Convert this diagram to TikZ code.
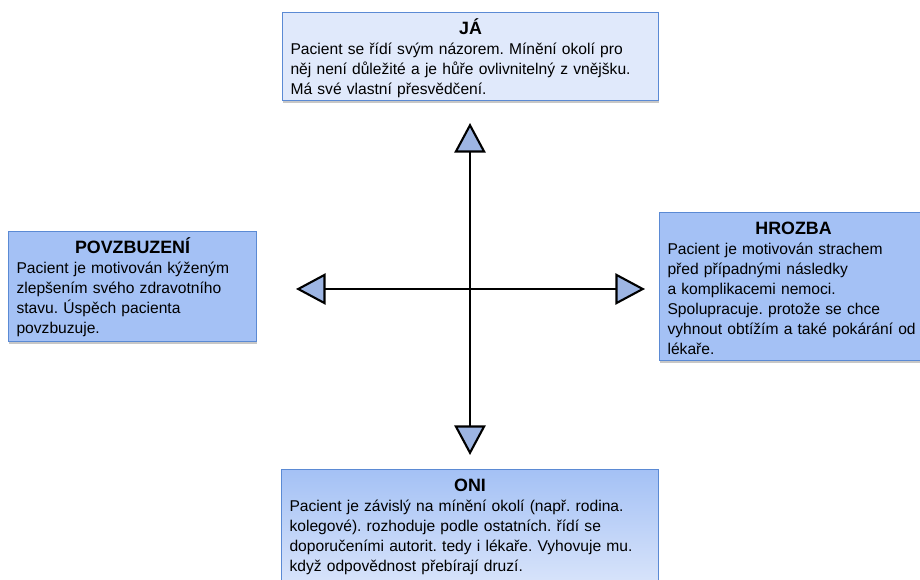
\documentclass[tikz,border=0pt]{standalone}
\usepackage{fontspec}
\setmainfont{Liberation Sans}
\usetikzlibrary{arrows.meta,shadows}
\definecolor{paleblue}{RGB}{224,233,251}
\definecolor{midblue}{RGB}{164,193,245}
\definecolor{edgeblue}{RGB}{91,138,212}
\definecolor{tipblue}{RGB}{157,181,227}
\tikzset{
  card/.style={draw=edgeblue,thick,anchor=north west,align=left,inner xsep=.2cm,inner ysep=.15cm,
    text height=.4cm,font=\fontsize{11.1}{14.2}\selectfont\frenchspacing,
    drop shadow={shadow xshift=.6pt,shadow yshift=-1.6pt,fill=black,opacity=.22}},
  axis/.style={line width=1.5pt,draw=black,{Triangle[length=.74cm,width=.78cm,fill=tipblue]}-{Triangle[length=.74cm,width=.78cm,fill=tipblue]}}
}
\newcommand{\cardtitle}[1]{\makebox[\linewidth]{\fontsize{12.7}{14.2}\selectfont\bfseries #1}\\}

\begin{document}
\begin{tikzpicture}
  \useasboundingbox (0,0) rectangle (23,-14.5);
  % the four boxes
  \node[card,fill=paleblue,text width=9cm,text depth=1.5cm] (ja) at (7.05,-.3)
    {\cardtitle{JÁ}Pacient se řídí svým názorem. Mínění okolí pro\\ něj není důležité a je hůře ovlivnitelný z vnějšku.\\ Má své vlastní přesvědčení.};
  \node[card,fill=midblue,text width=5.8cm,text depth=2.05cm] (povz) at (.2,-5.775)
    {\cardtitle{POVZBUZENÍ}Pacient je motivován kýženým\\ zlepšením svého zdravotního\\ stavu. Úspěch pacienta\\ povzbuzuje.};
  \node[card,fill=midblue,text width=6.3cm,text depth=3cm] (hrozba) at (16.475,-5.3)
    {\cardtitle{HROZBA}Pacient je motivován strachem\\ před případnými následky\\ a komplikacemi nemoci.\\ Spolupracuje. protože se chce\\ vyhnout obtížím a také pokárání od\\ lékaře.};
  \node[card,top color=midblue,middle color=midblue,bottom color=paleblue,text width=9.025cm,text depth=2.6cm] (oni) at (7.025,-11.725)
    {\cardtitle{ONI}Pacient je závislý na mínění okolí (např. rodina.\\ kolegové). rozhoduje podle ostatních. řídí se\\ doporučeními autorit. tedy i lékaře. Vyhovuje mu.\\ když odpovědnost přebírají druzí.};
  % the cross
  \coordinate (centre) at (11.75,-7.225);
  \coordinate (up) at (11.75,-3.075); \coordinate (down) at (11.75,-11.375);
  \coordinate (left) at (7.4,-7.225); \coordinate (right) at (16.125,-7.225);
  \draw[axis] (down) -- (up);
  \draw[axis] (left) -- (right);
\end{tikzpicture}
\end{document}
